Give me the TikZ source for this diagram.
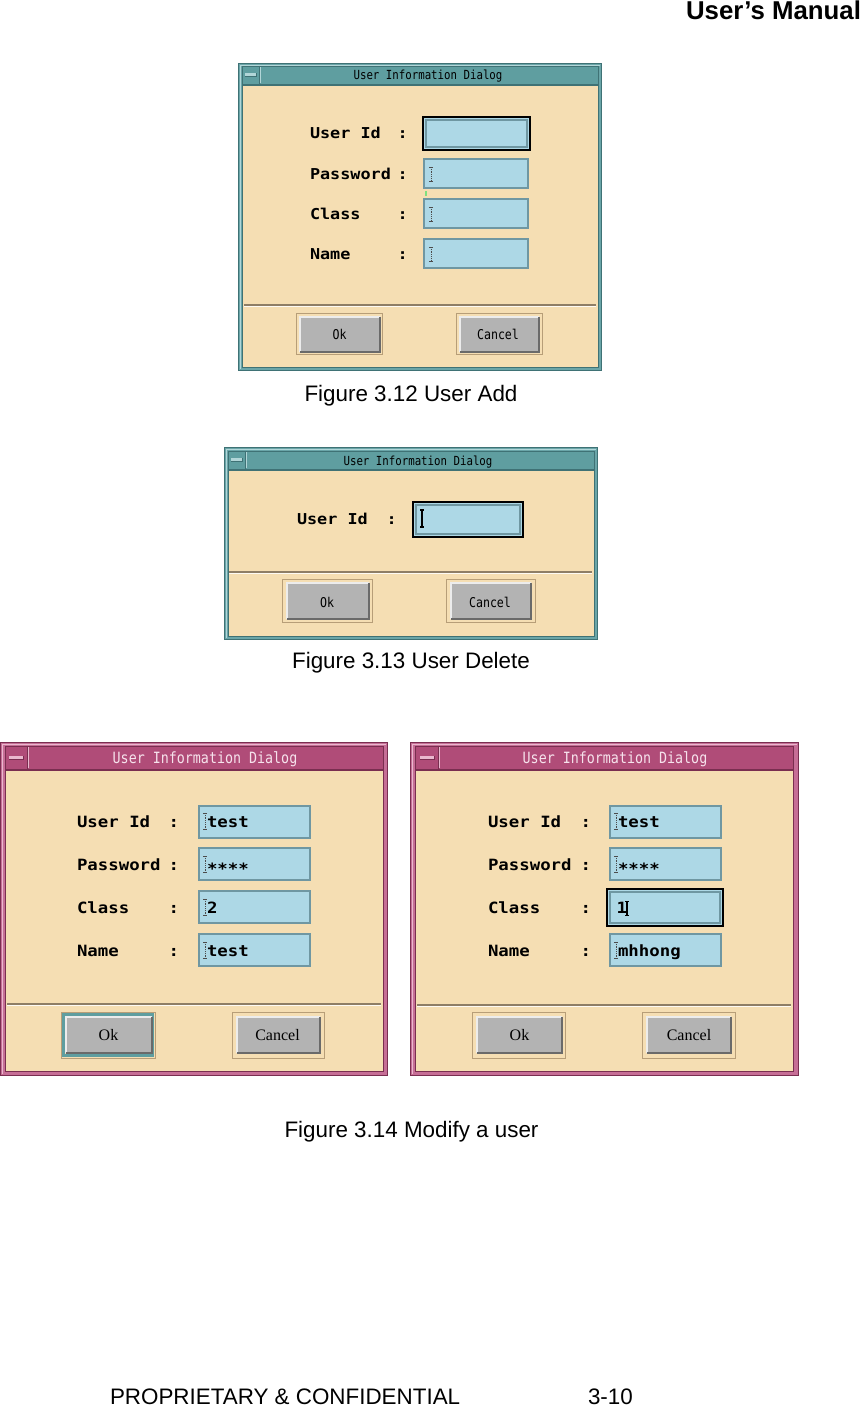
\documentclass[tikz,border=0pt]{standalone}
\usepackage{fontspec}
\setmainfont{Liberation Sans}
\newfontfamily\lblfam[FakeStretch=1.12]{DejaVu Sans Mono}
\newfontfamily\ttlfam[FakeStretch=0.86]{DejaVu Sans Mono}
\newfontfamily\serfam{Liberation Serif}
\definecolor{wheat}{HTML}{F5DEB3}
\definecolor{tealbar}{HTML}{5F9EA0}
\definecolor{tealframe}{HTML}{6AA5A8}
\definecolor{tealdark}{HTML}{3F7275}
\definecolor{tealhi}{HTML}{B2D6D8}
\definecolor{pinkbar}{HTML}{B04C78}
\definecolor{pinkframe}{HTML}{C66E96}
\definecolor{pinkdark}{HTML}{7A2E50}
\definecolor{pinkhi}{HTML}{EAB8CE}
\definecolor{titletext}{HTML}{F6E2EC}
\definecolor{fieldblue}{HTML}{ADD8E6}
\definecolor{fieldedge}{HTML}{6F97A2}
\definecolor{btngray}{HTML}{B3B3B3}
\definecolor{btndark}{HTML}{6A6A6A}
\definecolor{btnhi}{HTML}{ECECEC}
\definecolor{btnframe}{HTML}{B79E78}
\definecolor{sepdark}{HTML}{8E7E66}
\definecolor{greenmark}{HTML}{7FE07F}
\newcommand{\ibeamd}[4]{%
  \draw[#4] (#1,#2)--(#1,#3);
  \draw[#4,solid] (#1-1.6,#2)--(#1+1.6,#2) (#1-1.6,#3)--(#1+1.6,#3);}
\newcommand{\bevelbtn}[1]{%
  \draw[btnhi,line width=1.6] (#1.south west)--(#1.north west)--(#1.north east);
  \draw[btndark,line width=1.6] (#1.south west)--(#1.south east)--(#1.north east);}
\begin{document}
\begin{tikzpicture}[x=1pt,y=-1pt,every node/.style={inner sep=0pt,outer sep=0pt}]
\tikzset{
  lbla/.style={font=\lblfam\bfseries\fontsize{15}{18}\selectfont,anchor=base west},
  lblb/.style={font=\lblfam\bfseries\fontsize{15.5}{18}\selectfont,anchor=base west},
  ttla/.style={font=\ttlfam\fontsize{12.5}{15}\selectfont,anchor=base},
  ttlb/.style={font=\ttlfam\fontsize{15.5}{18}\selectfont,anchor=base,text=titletext},
  btxta/.style={font=\ttlfam\fontsize{13.5}{15}\selectfont,anchor=base},
  btxtb/.style={font=\serfam\fontsize{16}{18}\selectfont,anchor=base},
  field/.style={draw=fieldedge,line width=2,fill=fieldblue,anchor=north west},
  focusfield/.style={draw=black,line width=2.6,fill=fieldblue,anchor=north west},
  btnfr/.style={draw=btnframe,line width=1,fill=wheat,anchor=north west},
  btn/.style={fill=btngray,anchor=north west},
  caption/.style={font=\fontsize{22.4}{26}\selectfont,anchor=base},
  dotbeam/.style={black!70,line width=0.8,densely dotted},
  solidbeam/.style={black,line width=1.2},
  sep/.style={sepdark,line width=1.2},
  seplight/.style={white!85!wheat,line width=1}
}
\useasboundingbox (0,0) rectangle (861,1407);
\fill[white] (0,0) rectangle (861,1407);

% header
\node[font=\bfseries\fontsize{25.8}{29}\selectfont,anchor=base east] (hdr) at (861,20) {User’s Manual};

% ================= Dialog 1 =================
\fill[tealframe] (238,63) rectangle (602,371);
\draw[tealdark,line width=1] (238.5,63.5) rectangle (601.5,370.5);
\draw[tealhi,line width=0.8] (240.5,368.5) -- (240.5,65.5) -- (599.5,65.5);
\fill[tealbar] (242,66) rectangle (598,84);
\draw[tealdark,line width=0.8] (242,66) rectangle (598,84);
\draw[tealdark,line width=0.8] (259,66) -- (259,84);
\draw[tealhi,line width=0.8] (260,67) -- (260,83);
\fill[tealhi] (245,73) rectangle (256,76.5);
\draw[tealdark,line width=0.7] (245,76.5) -- (256,76.5) -- (256,73);
\fill[wheat] (242,85) rectangle (598,367);
\draw[tealdark,line width=0.8] (242,85) rectangle (598,367);
\node[ttla] (d1title) at (428,80) {User Information Dialog};

\node[lbla] (d1l1) at (310,139) {User Id};
\node[lbla] (d1l2) at (310,179) {Password};
\node[lbla] (d1l3) at (310,219.5) {Class};
\node[lbla] (d1l4) at (310,259.5) {Name};
\node[lbla] (d1c1) at (397.5,139) {:};
\node[lbla] (d1c2) at (397.5,179) {:};
\node[lbla] (d1c3) at (397.5,219.5) {:};
\node[lbla] (d1c4) at (397.5,259.5) {:};

\node[focusfield,minimum width=107,minimum height=33] (d1f1) at (423,117) {};
\draw[fieldedge,line width=1.6] ([shift={(3,3)}]d1f1.north west) rectangle ([shift={(-3,-3)}]d1f1.south east);
\node[field,minimum width=104,minimum height=29] (d1f2) at (424,159) {};
\node[field,minimum width=104,minimum height=29] (d1f3) at (424,199) {};
\node[field,minimum width=104,minimum height=29] (d1f4) at (424,239) {};
\ibeamd{431}{167}{181.5}{dotbeam}
\ibeamd{431}{207}{221.5}{dotbeam}
\ibeamd{431}{247}{261.5}{dotbeam}
\fill[greenmark] (424.5,191.5) rectangle (426.5,196);

\draw[sep] (244,305) -- (596,305);
\draw[seplight] (244,306.5) -- (596,306.5);

\node[btnfr,minimum width=86,minimum height=41] (d1okf) at (296,313) {};
\node[btn,minimum width=80,minimum height=35] (d1ok) at (300,317) {};
\bevelbtn{d1ok}
\node[btxta] (d1okt) at (339.5,339) {Ok};
\node[btnfr,minimum width=86,minimum height=41] (d1caf) at (456,313) {};
\node[btn,minimum width=79,minimum height=35] (d1ca) at (460,317) {};
\bevelbtn{d1ca}
\node[btxta] (d1cat) at (498,339) {Cancel};

\node[caption] (cap1) at (411,401) {Figure 3.12 User Add};

% ================= Dialog 2 =================
\fill[tealframe] (224,447) rectangle (598,640);
\draw[tealdark,line width=1] (224.5,447.5) rectangle (597.5,639.5);
\draw[tealhi,line width=0.8] (226.5,637.5) -- (226.5,449.5) -- (595.5,449.5);
\fill[tealbar] (228,451) rectangle (594,469);
\draw[tealdark,line width=0.8] (228,451) rectangle (594,469);
\draw[tealdark,line width=0.8] (245,451) -- (245,469);
\draw[tealhi,line width=0.8] (246,452) -- (246,468);
\fill[tealhi] (231,458) rectangle (242,461.5);
\draw[tealdark,line width=0.7] (231,461.5) -- (242,461.5) -- (242,458);
\fill[wheat] (228,470) rectangle (594,636);
\draw[tealdark,line width=0.8] (228,470) rectangle (594,636);
\node[ttla] (d2title) at (418,465) {User Information Dialog};

\node[lbla] (d2l1) at (297,524) {User Id};
\node[lbla] (d2c1) at (386.5,524) {:};
\node[focusfield,minimum width=110,minimum height=35] (d2f1) at (413,502) {};
\draw[fieldedge,line width=1.6] ([shift={(3,3)}]d2f1.north west) rectangle ([shift={(-3,-3)}]d2f1.south east);
\ibeamd{422}{510}{527}{solidbeam}

\draw[sep] (229,572) -- (592,572);
\draw[seplight] (229,573.5) -- (592,573.5);

\node[btnfr,minimum width=90,minimum height=43] (d2okf) at (282,579) {};
\node[btn,minimum width=82,minimum height=36] (d2ok) at (287,583) {};
\bevelbtn{d2ok}
\node[btxta] (d2okt) at (327,607) {Ok};
\node[btnfr,minimum width=89,minimum height=43] (d2caf) at (446,579) {};
\node[btn,minimum width=80,minimum height=36] (d2ca) at (451,583) {};
\bevelbtn{d2ca}
\node[btxta] (d2cat) at (490,607) {Cancel};

\node[caption] (cap2) at (411,668) {Figure 3.13 User Delete};

% ================= Dialog 3 =================
\fill[pinkframe] (0,742) rectangle (388,1076);
\draw[pinkdark,line width=1] (0.5,742.5) rectangle (387.5,1075.5);
\draw[pinkhi,line width=1] (2,1073.5) -- (2,744.5) -- (385.5,744.5);
\fill[pinkbar] (5,746) rectangle (383,769);
\draw[pinkdark,line width=0.8] (5,746) rectangle (383,769);
\draw[pinkdark,line width=0.8] (27,746) -- (27,769);
\draw[pinkhi,line width=0.8] (28,747) -- (28,768);
\fill[pinkhi] (9,756) rectangle (23,759.5);
\draw[pinkdark,line width=0.7] (9,759.5) -- (23,759.5) -- (23,756);
\fill[wheat] (5,770) rectangle (383,1071);
\draw[pinkdark,line width=0.8] (5,770) rectangle (383,1071);
\node[ttlb] (d3title) at (205,763) {User Information Dialog};

\node[lblb] (d3l1) at (77,827) {User Id};
\node[lblb] (d3l2) at (77,870) {Password};
\node[lblb] (d3l3) at (77,913) {Class};
\node[lblb] (d3l4) at (77,956) {Name};
\node[lblb] (d3c1) at (168.5,827) {:};
\node[lblb] (d3c2) at (168.5,870) {:};
\node[lblb] (d3c3) at (168.5,913) {:};
\node[lblb] (d3c4) at (168.5,956) {:};

\node[field,minimum width=111,minimum height=32] (d3f1) at (199,806) {};
\node[field,minimum width=111,minimum height=32] (d3f2) at (199,848) {};
\node[field,minimum width=111,minimum height=32] (d3f3) at (199,891) {};
\node[field,minimum width=111,minimum height=32] (d3f4) at (199,934) {};
\ibeamd{205}{813}{829}{dotbeam}
\ibeamd{205}{856}{872}{dotbeam}
\ibeamd{205}{899}{915}{dotbeam}
\ibeamd{205}{942}{958}{dotbeam}
\node[lblb] (d3v1) at (207,827) {test};
\node[lblb] (d3v2) at (207,874) {****};
\node[lblb] (d3v3) at (207,913) {2};
\node[lblb] (d3v4) at (207,956) {test};

\draw[sep] (7,1004) -- (381,1004);
\draw[seplight] (7,1005.5) -- (381,1005.5);

\node[btnfr,minimum width=94,minimum height=46] (d3okf) at (61,1012) {};
\draw[tealbar,line width=2.4] (63.5,1014.5) rectangle (152.5,1055.5);
\node[btn,minimum width=86,minimum height=36] (d3ok) at (66,1017) {};
\bevelbtn{d3ok}
\node[btxtb] (d3okt) at (108.5,1040) {Ok};
\node[btnfr,minimum width=92,minimum height=46] (d3caf) at (232,1012) {};
\node[btn,minimum width=83,minimum height=36] (d3ca) at (237,1017) {};
\bevelbtn{d3ca}
\node[btxtb] (d3cat) at (277.5,1040) {Cancel};

% ================= Dialog 4 =================
\fill[pinkframe] (410,742) rectangle (799,1076);
\draw[pinkdark,line width=1] (410.5,742.5) rectangle (798.5,1075.5);
\draw[pinkhi,line width=1] (412,1073.5) -- (412,744.5) -- (796.5,744.5);
\fill[pinkbar] (415,746) rectangle (793,769);
\draw[pinkdark,line width=0.8] (415,746) rectangle (793,769);
\draw[pinkdark,line width=0.8] (438,746) -- (438,769);
\draw[pinkhi,line width=0.8] (439,747) -- (439,768);
\fill[pinkhi] (420,756) rectangle (434,759.5);
\draw[pinkdark,line width=0.7] (420,759.5) -- (434,759.5) -- (434,756);
\fill[wheat] (415,770) rectangle (793,1071);
\draw[pinkdark,line width=0.8] (415,770) rectangle (793,1071);
\node[ttlb] (d4title) at (615,763) {User Information Dialog};

\node[lblb] (d4l1) at (488,827) {User Id};
\node[lblb] (d4l2) at (488,870) {Password};
\node[lblb] (d4l3) at (488,913) {Class};
\node[lblb] (d4l4) at (488,956) {Name};
\node[lblb] (d4c1) at (580.5,827) {:};
\node[lblb] (d4c2) at (580.5,870) {:};
\node[lblb] (d4c3) at (580.5,913) {:};
\node[lblb] (d4c4) at (580.5,956) {:};

\node[field,minimum width=111,minimum height=32] (d4f1) at (610,806) {};
\node[field,minimum width=111,minimum height=32] (d4f2) at (610,848) {};
\node[focusfield,minimum width=116,minimum height=37] (d4f3) at (607,889) {};
\draw[fieldedge,line width=1.6] ([shift={(3,3)}]d4f3.north west) rectangle ([shift={(-3,-3)}]d4f3.south east);
\node[field,minimum width=111,minimum height=32] (d4f4) at (610,934) {};
\ibeamd{616}{813}{829}{dotbeam}
\ibeamd{616}{856}{872}{dotbeam}
\ibeamd{616}{942}{958}{dotbeam}
\node[lblb] (d4v1) at (618,827) {test};
\node[lblb] (d4v2) at (618,874) {****};
\node[lblb] (d4v3) at (616.5,913) {1};
\ibeamd{627}{901.5}{915.5}{solidbeam}
\node[lblb] (d4v4) at (618,956) {mhhong};

\draw[sep] (417,1005) -- (791,1005);
\draw[seplight] (417,1006.5) -- (791,1006.5);

\node[btnfr,minimum width=93,minimum height=46] (d4okf) at (472,1012) {};
\node[btn,minimum width=85,minimum height=36] (d4ok) at (477,1017) {};
\bevelbtn{d4ok}
\node[btxtb] (d4okt) at (519.5,1040) {Ok};
\node[btnfr,minimum width=93,minimum height=46] (d4caf) at (642,1012) {};
\node[btn,minimum width=84,minimum height=36] (d4ca) at (647,1017) {};
\bevelbtn{d4ca}
\node[btxtb] (d4cat) at (689,1040) {Cancel};

\node[caption] (cap3) at (411.5,1137) {Figure 3.14 Modify a user};

% footer
\node[caption,anchor=base west] (foot1) at (110,1404) {PROPRIETARY \& CONFIDENTIAL};
\node[caption,anchor=base west] (foot2) at (588,1404) {3-10};
\end{tikzpicture}
\end{document}
